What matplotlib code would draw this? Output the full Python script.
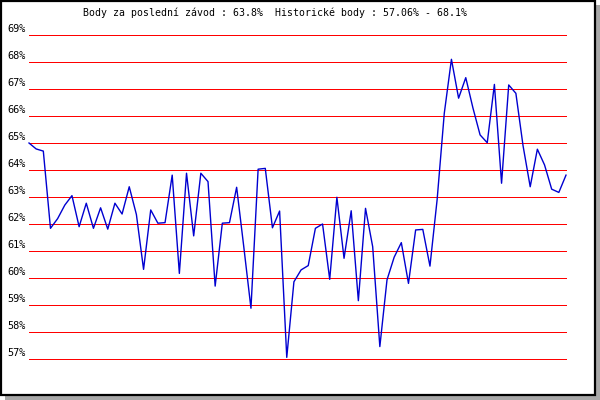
import matplotlib
matplotlib.use("Agg")
import matplotlib.pyplot as plt
from matplotlib.patches import Rectangle

# Data (percent per race)
values = [65.0, 64.78, 64.70, 61.84, 62.2, 62.7, 63.05, 61.9, 62.77, 61.84,
          62.6, 61.81, 62.77, 62.37, 63.38, 62.35, 60.32, 62.52, 62.03, 62.05,
          63.81, 60.17, 63.88, 61.56, 63.88, 63.57, 59.70, 62.03, 62.05, 63.36,
          61.15, 58.88, 64.03, 64.06, 61.86, 62.48, 57.06, 59.86, 60.3, 60.46,
          61.84, 62.0, 59.95, 62.99, 60.73, 62.49, 59.16, 62.58, 61.16, 57.46,
          59.93, 60.77, 61.31, 59.8, 61.78, 61.8, 60.44, 62.9, 66.1, 68.1,
          66.66, 67.42, 66.3, 65.3, 65.01, 67.17, 63.51, 67.15, 66.84, 64.9,
          63.38, 64.77, 64.19, 63.29, 63.17, 63.81]
grid_levels = list(range(57, 70))
grid_labels = [f"{v}%" for v in grid_levels]
title = "Body za poslední závod : 63.8%  Historické body : 57.06% - 68.1%"

W, H = 600, 400
fig = plt.figure(figsize=(W / 100, H / 100), dpi=100)
fig.patch.set_facecolor("white")

# drop shadow and black frame
fig.add_artist(Rectangle((5 / W, 0), 1 - 5 / W, (H - 5) / H, transform=fig.transFigure,
                         facecolor="#a8a8a8", edgecolor="none", zorder=-20))
fig.add_artist(Rectangle((1 / W, 5 / H), 594 / W, 394 / H, transform=fig.transFigure,
                         facecolor="white", edgecolor="black", linewidth=1.6, zorder=-10))

left_px, right_px, top_px, bot_px = 29, 566, 35, 359
ax = fig.add_axes([left_px / W, (H - bot_px) / H, (right_px - left_px) / W, (bot_px - top_px) / H])
ax.set_facecolor("none")
ax.set_xlim(0, len(values) - 1)
ax.set_ylim(57, 69)
for s in ax.spines.values():
    s.set_visible(False)
ax.set_xticks([])
ax.set_yticks([])

for lvl, lab in zip(grid_levels, grid_labels):
    ax.axhline(lvl, color="#ff0000", linewidth=0.72, antialiased=False, clip_on=False, zorder=1)
    ax.annotate(lab, xy=(0, lvl), xycoords=("axes fraction", "data"),
                xytext=(-3, 6), textcoords="offset pixels", ha="right", va="center",
                fontsize=7.4, family="DejaVu Sans Mono", color="black")

ax.plot(range(len(values)), values, color="#0000d0", linewidth=1.0, clip_on=False, zorder=3)

fig.text(83 / W, 1 - 13 / H, title, ha="left", va="center", fontsize=7.15,
         family="DejaVu Sans Mono", color="black")

fig.savefig("out.png", dpi=100)
